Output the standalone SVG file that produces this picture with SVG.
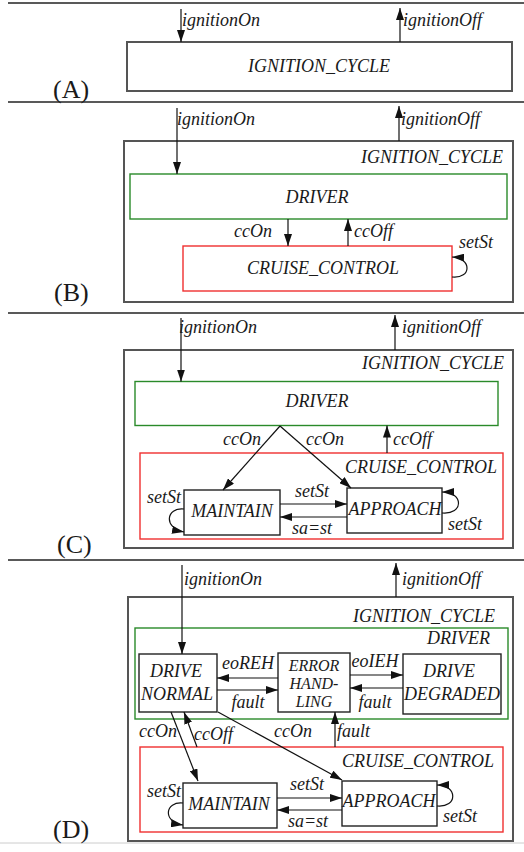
<svg xmlns="http://www.w3.org/2000/svg" width="524" height="852" viewBox="0 0 524 852">
<style>
text{font-family:"Liberation Serif","Times New Roman",serif;font-style:italic;font-size:18px;fill:#1a1a1a}
.pl{font-style:normal;font-size:26px}
.m{text-anchor:middle}
.e{text-anchor:end}
.outer{fill:#fff;stroke:#555;stroke-width:2}
.st{fill:#fff;stroke:#222;stroke-width:1.4}
.grn{fill:none;stroke:#2a8a2a;stroke-width:1.4}
.red{fill:none;stroke:#f03030;stroke-width:1.4}
.sep{stroke:#222;stroke-width:1.5}
.c{fill:none;stroke:#111;stroke-width:1.2;marker-end:url(#ah)}
</style>
<defs>
<marker id="ah" viewBox="0 0 12 8" refX="12" refY="4" markerWidth="12" markerHeight="8" markerUnits="userSpaceOnUse" orient="auto"><path d="M0,0 L12,4 L0,8 z" fill="#111"/></marker>
</defs>
<g id="separators">
<line class="sep" x1="8" y1="3" x2="524" y2="3"/>
<line class="sep" x1="8" y1="102" x2="524" y2="102"/>
<line class="sep" x1="8" y1="313" x2="524" y2="313"/>
<line class="sep" x1="8" y1="560" x2="524" y2="560"/>
<line x1="0" y1="843" x2="524" y2="843" stroke="#ccc" stroke-width="1"/>
</g>
<g id="panel-labels">
<text class="pl" x="53" y="98">(A)</text>
<text class="pl" x="54" y="301">(B)</text>
<text class="pl" x="57" y="553">(C)</text>
<text class="pl" x="53" y="838">(D)</text>
</g>
<!-- Panel A -->
<g id="A-IGNITION_CYCLE"><rect class="outer" x="127" y="42" width="385" height="49"/><text class="m" x="319" y="72">IGNITION_CYCLE</text></g>
<!-- Panel B -->
<g id="B-IGNITION_CYCLE"><rect class="outer" x="124" y="141" width="389" height="161"/><text class="e" x="503" y="163">IGNITION_CYCLE</text></g>
<g id="B-DRIVER"><rect class="grn" x="130" y="174" width="377" height="45"/><text class="m" x="317" y="203">DRIVER</text></g>
<g id="B-CRUISE_CONTROL"><rect class="red" x="183" y="246" width="269" height="45"/><text class="m" x="323" y="274">CRUISE_CONTROL</text></g>
<!-- Panel C -->
<g id="C-IGNITION_CYCLE"><rect class="outer" x="124" y="350" width="389" height="198"/><text class="e" x="504" y="369">IGNITION_CYCLE</text></g>
<g id="C-DRIVER"><rect class="grn" x="135" y="381.5" width="363" height="44"/><text class="m" x="317" y="407">DRIVER</text></g>
<g id="C-CRUISE_CONTROL"><rect class="red" x="140" y="453" width="363" height="86"/><text class="e" x="497" y="473">CRUISE_CONTROL</text></g>
<g id="C-MAINTAIN"><rect class="st" x="184" y="490" width="96" height="45"/><text class="m" x="232" y="517">MAINTAIN</text></g>
<g id="C-APPROACH"><rect class="st" x="347" y="488" width="95" height="45"/><text class="m" x="395" y="515">APPROACH</text></g>
<!-- Panel D -->
<g id="D-IGNITION_CYCLE"><rect class="outer" x="128" y="597" width="385" height="244"/><text class="e" x="495" y="622">IGNITION_CYCLE</text></g>
<g id="D-DRIVER"><rect class="grn" x="135" y="628" width="373" height="91"/><text class="e" x="490" y="644">DRIVER</text></g>
<g id="D-DRIVE_NORMAL"><rect class="st" x="139" y="654" width="78" height="58"/><text class="m" y="677"><tspan x="176">DRIVE</tspan><tspan x="177" dy="23">NORMAL</tspan></text></g>
<g id="D-ERROR_HANDLING"><rect class="st" x="278" y="653" width="72" height="59"/><text class="m" y="670.5" style="font-size:16px"><tspan x="314">ERROR</tspan><tspan x="314" dy="18">HAND-</tspan><tspan x="314" dy="18">LING</tspan></text></g>
<g id="D-DRIVE_DEGRADED"><rect class="st" x="403" y="654" width="98" height="60"/><text class="m" y="677"><tspan x="449">DRIVE</tspan><tspan x="452" dy="23">DEGRADED</tspan></text></g>
<g id="D-CRUISE_CONTROL"><rect class="red" x="140" y="747" width="363" height="85"/><text class="e" x="494" y="767">CRUISE_CONTROL</text></g>
<g id="D-MAINTAIN"><rect class="st" x="183" y="783" width="94" height="45"/><text class="m" x="229" y="810">MAINTAIN</text></g>
<g id="D-APPROACH"><rect class="st" x="342" y="781" width="95" height="45"/><text class="m" x="389" y="807">APPROACH</text></g>
<g id="connectors">
<!-- A -->
<path class="c" d="M181,9 V42"/><text x="182" y="26">ignitionOn</text>
<path class="c" d="M400,42 V8"/><text x="403" y="26">ignitionOff</text>
<!-- B -->
<path class="c" d="M177,108 V174"/><text x="177" y="125">ignitionOn</text>
<path class="c" d="M399,141 V106"/><text x="401" y="125">ignitionOff</text>
<path class="c" d="M288,219 V246"/><text class="e" x="272" y="237">ccOn</text>
<path class="c" d="M348,246 V219"/><text x="354" y="237">ccOff</text>
<path class="c" d="M452,277 C472,279 472,258 452,257"/><text x="459" y="248">setSt</text>
<!-- C -->
<path class="c" d="M181,318 V381.5"/><text x="179" y="333">ignitionOn</text>
<path class="c" d="M395,350 V315"/><text x="402" y="333">ignitionOff</text>
<path class="c" d="M280,426 L223,490"/><text x="223" y="445">ccOn</text>
<path class="c" d="M280,426 L351,488"/><text x="306" y="445">ccOn</text>
<path class="c" d="M387,453 V425.5"/><text x="393" y="445">ccOff</text>
<path class="c" d="M280,504 H347"/><text class="m" x="312" y="497">setSt</text>
<path class="c" d="M347,517 H280"/><text class="m" x="312" y="534">sa=st</text>
<path class="c" d="M184,509 C166,507 163,528 184,532"/><text x="147" y="503">setSt</text>
<path class="c" d="M442,513 C464,515 464,492 442,492"/><text x="448" y="530">setSt</text>
<!-- D -->
<path class="c" d="M182,565 V654"/><text x="184" y="585">ignitionOn</text>
<path class="c" d="M396,597 V563"/><text x="402" y="585">ignitionOff</text>
<path class="c" d="M278,678 H217"/><text class="m" x="248" y="669">eoREH</text>
<path class="c" d="M217,690 H278"/><text class="m" x="248" y="708">fault</text>
<path class="c" d="M350,675 H403"/><text class="m" x="375" y="667">eoIEH</text>
<path class="c" d="M403,688 H350"/><text class="m" x="375" y="708">fault</text>
<path class="c" d="M171,712 L198,781"/><text x="139" y="737">ccOn</text>
<path class="c" d="M197,747 L184,712"/><text x="194" y="740">ccOff</text>
<path class="c" d="M218,712 L342,780"/><text class="m" x="293" y="737">ccOn</text>
<path class="c" d="M335,747 V712"/><text x="337" y="737">fault</text>
<path class="c" d="M277,798 H342"/><text class="m" x="307" y="790">setSt</text>
<path class="c" d="M342,810 H277"/><text class="m" x="308" y="827">sa=st</text>
<path class="c" d="M183,803 C165,801 162,822 183,825"/><text x="147" y="797">setSt</text>
<path class="c" d="M437,806 C458,808 458,785 437,785"/><text x="443" y="822">setSt</text>
</g>
</svg>
